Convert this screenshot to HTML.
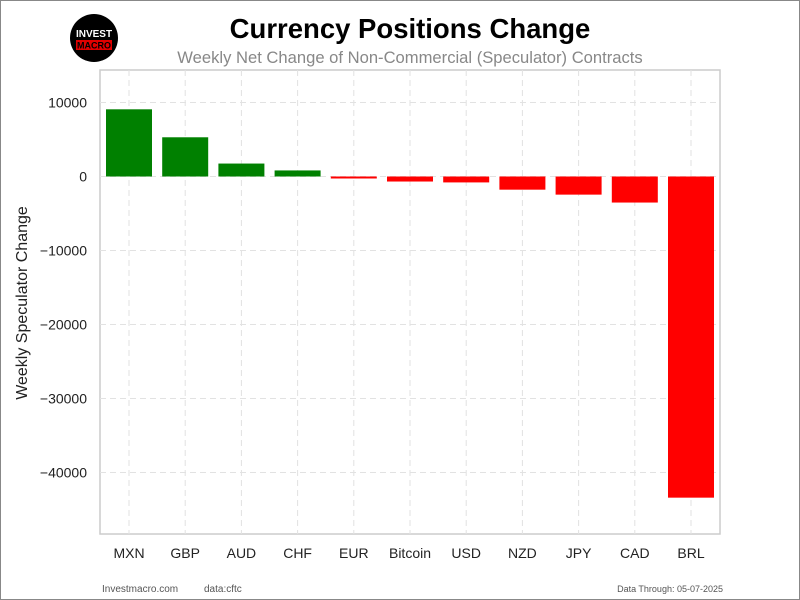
<!DOCTYPE html>
<html><head><meta charset="utf-8"><style>
body{margin:0;background:#fff}
#wrap{position:relative;width:798px;height:598px;border:1px solid #888;overflow:hidden;font-family:"Liberation Sans",sans-serif}
</style></head><body>
<div id="wrap">
<svg id="chart" width="798" height="598" font-family="Liberation Sans, sans-serif"></svg>
</div>
<script>
const categories=["MXN","GBP","AUD","CHF","EUR","Bitcoin","USD","NZD","JPY","CAD","BRL"];
const values=[9080,5300,1750,820,-270,-680,-800,-1780,-2450,-3520,-43400];
const yTicks=[10000,0,-10000,-20000,-30000,-40000];
const tickLabels=["10000","0","\u221210000","\u221220000","\u221230000","\u221240000"];
const NS="http://www.w3.org/2000/svg";
const svg=document.getElementById('chart');
function mk(t,a,txt){const e=document.createElementNS(NS,t);for(const k in a)e.setAttribute(k,a[k]);if(txt!=null)e.textContent=txt;svg.appendChild(e);return e;}
const L=99,R=719,T=69,B=533;
const y=v=>175.5-v*0.0074;
const step=56.2,x0=128;
const x=i=>x0+i*step;
let e;
e=mk('rect',{x:L,y:T,width:R-L,height:B-T,fill:'#fff',stroke:'#ccc','stroke-width':1.5});


yTicks.forEach((t,i)=>{
 e=mk('line',{x1:L,x2:R,y1:y(t),y2:y(t),stroke:'#e2e2e2','stroke-dasharray':'6,4'});
 
 
 e=mk('text',{x:L-13,y:y(t)+5,'text-anchor':'end','font-size':14,fill:'#222'},tickLabels[i]);
 
 
});
categories.forEach((c,i)=>{
 e=mk('line',{x1:x(i),x2:x(i),y1:T,y2:B,stroke:'#e2e2e2','stroke-dasharray':'6,4'});
 
 
});
categories.forEach((c,i)=>{
 const v=values[i];const y1=Math.min(y(v),y(0)),h=Math.max(Math.abs(y(v)-y(0)),1.5);
 e=mk('rect',{x:x(i)-23,y:y1,width:46,height:h,fill:v>=0?'#008000':'#ff0000'});
 
 
 e=mk('text',{x:x(i),y:B+24,'text-anchor':'middle','font-size':14,fill:'#222'},c);
 
 
});
e=mk('text',{x:26,y:302,'text-anchor':'middle','font-size':16,fill:'#222',transform:'rotate(-90 26 302)'},'Weekly Speculator Change');


e=mk('text',{x:409,y:37,'text-anchor':'middle','font-size':27.5,'font-weight':'bold',fill:'#000'},'Currency Positions Change');


e=mk('text',{x:409,y:62,'text-anchor':'middle','font-size':16.6,fill:'#888'},'Weekly Net Change of Non-Commercial (Speculator) Contracts');


e=mk('circle',{cx:93,cy:37,r:24,fill:'#000'});


e=mk('text',{x:93,y:36,'text-anchor':'middle','font-size':10,'font-weight':'bold',fill:'#fff'},'INVEST');


e=mk('rect',{x:75,y:39,width:36,height:10,fill:'#e00000'});


e=mk('text',{x:93,y:47.5,'text-anchor':'middle','font-size':9,'font-weight':'bold',fill:'#000'},'MACRO');


e=mk('text',{x:101,y:591,'font-size':10,fill:'#555'},'Investmacro.com');


e=mk('text',{x:203,y:591,'font-size':10,fill:'#555'},'data:cftc');


e=mk('text',{x:722,y:591,'text-anchor':'end','font-size':9,fill:'#555'},'Data Through: 05-07-2025');


</script>
</body></html>
